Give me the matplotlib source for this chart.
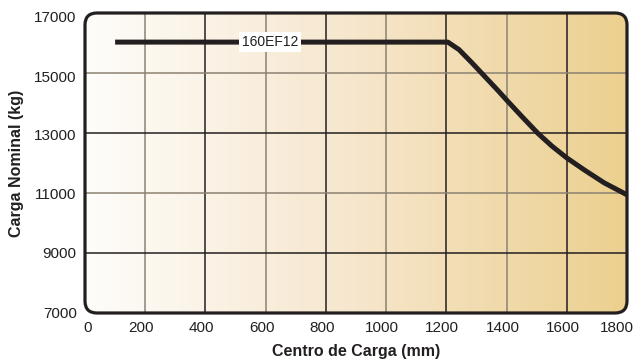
import numpy as np
import matplotlib
matplotlib.use("Agg")
import matplotlib.pyplot as plt
import matplotlib.transforms as mtransforms
from matplotlib.patches import FancyBboxPatch
from matplotlib.colors import LinearSegmentedColormap

plt.rcParams['font.family'] = ['Liberation Sans', 'DejaVu Sans']

# Data
centro_mm = [100, 1205, 1242, 1285, 1329, 1373, 1400, 1449, 1504, 1550, 1600, 1658, 1724, 1800]
carga_kg = [16030, 16030, 15780, 15340, 14870, 14400, 14100, 13570, 12990, 12570, 12170, 11770, 11340, 10940]
model_label = "160EF12"
x_ticks = [0, 200, 400, 600, 800, 1000, 1200, 1400, 1600, 1800]
y_ticks = [7000, 9000, 11000, 13000, 15000, 17000]

TXT = '#231f20'
fig = plt.figure(figsize=(6.38, 3.6), dpi=100)
ax = fig.add_axes([85/638, 1-313/360, 542/638, 300/360])
ax.set_xlim(0, 1800)
ax.set_ylim(7000, 17000)
for s in ax.spines.values():
    s.set_visible(False)
ax.patch.set_visible(False)

# Rounded frame
w_px, h_px = 542, 300
r = 12 / w_px
frame = FancyBboxPatch((0, 0), 1, 1, boxstyle=f"round,pad=0,rounding_size={r}",
                       mutation_aspect=w_px / h_px, transform=ax.transAxes,
                       facecolor='none', edgecolor=TXT, linewidth=2.3, zorder=6,
                       clip_on=False)
ax.add_patch(frame)

# Gradient background
cmap = LinearSegmentedColormap.from_list('g', ['#fefdfb', '#f6e6cc', '#ecd08f'])
grad = np.linspace(0, 1, 256).reshape(1, -1)
im = ax.imshow(grad, extent=[0, 1800, 7000, 17000], aspect='auto', cmap=cmap,
               zorder=0, interpolation='bicubic')
im.set_clip_path(frame)

# Gridlines
grey = '#8c8272'
for i, xv in enumerate(x_ticks[1:-1]):
    c = grey if i % 2 == 0 else TXT
    ln = ax.axvline(xv, color=c, linewidth=1.1, zorder=1)
    ln.set_clip_path(frame)
for yv in y_ticks[1:-1]:
    c = grey if yv in (11000, 15000) else TXT
    ln = ax.axhline(yv, color=c, linewidth=1.1, zorder=1)
    ln.set_clip_path(frame)

# Curve
ln, = ax.plot(centro_mm, carga_kg, color=TXT, linewidth=3.6, zorder=4,
              solid_joinstyle='round', solid_capstyle='butt')
ln.set_clip_path(frame)

ax.text(614, 16030, model_label, ha='center', va='center', fontsize=10, color=TXT,
        zorder=5, bbox=dict(boxstyle='square,pad=0.2', facecolor='white', edgecolor='none'))

ax.set_xticks(x_ticks)
ax.set_yticks(y_ticks)
ax.set_xticklabels([str(v) for v in x_ticks])
ax.set_yticklabels([str(v) for v in y_ticks])
ax.tick_params(length=0, labelsize=11, colors=TXT, pad=6)
ax.tick_params(axis='y', pad=6)
ax.set_xlabel('Centro de Carga (mm)', fontsize=11.5, fontweight='bold', color=TXT, labelpad=6)
ax.set_ylabel('Carga Nominal (kg)', fontsize=11.5, fontweight='bold', color=TXT, labelpad=7)

# small label offsets (pixels) like the reference
x_off = {0: 3, 1800: -10}
for val, lab in zip(x_ticks, ax.get_xticklabels()):
    dx = x_off.get(val, -4)
    lab.set_transform(lab.get_transform() + mtransforms.ScaledTranslation(dx/100, 0, fig.dpi_scale_trans))
y_off = {17000: -4, 15000: -4, 13000: -2}
for val, lab in zip(y_ticks, ax.get_yticklabels()):
    dy = y_off.get(val, 0)
    lab.set_transform(lab.get_transform() + mtransforms.ScaledTranslation(0, dy/100, fig.dpi_scale_trans))

fig.savefig('out.png', dpi=100)
